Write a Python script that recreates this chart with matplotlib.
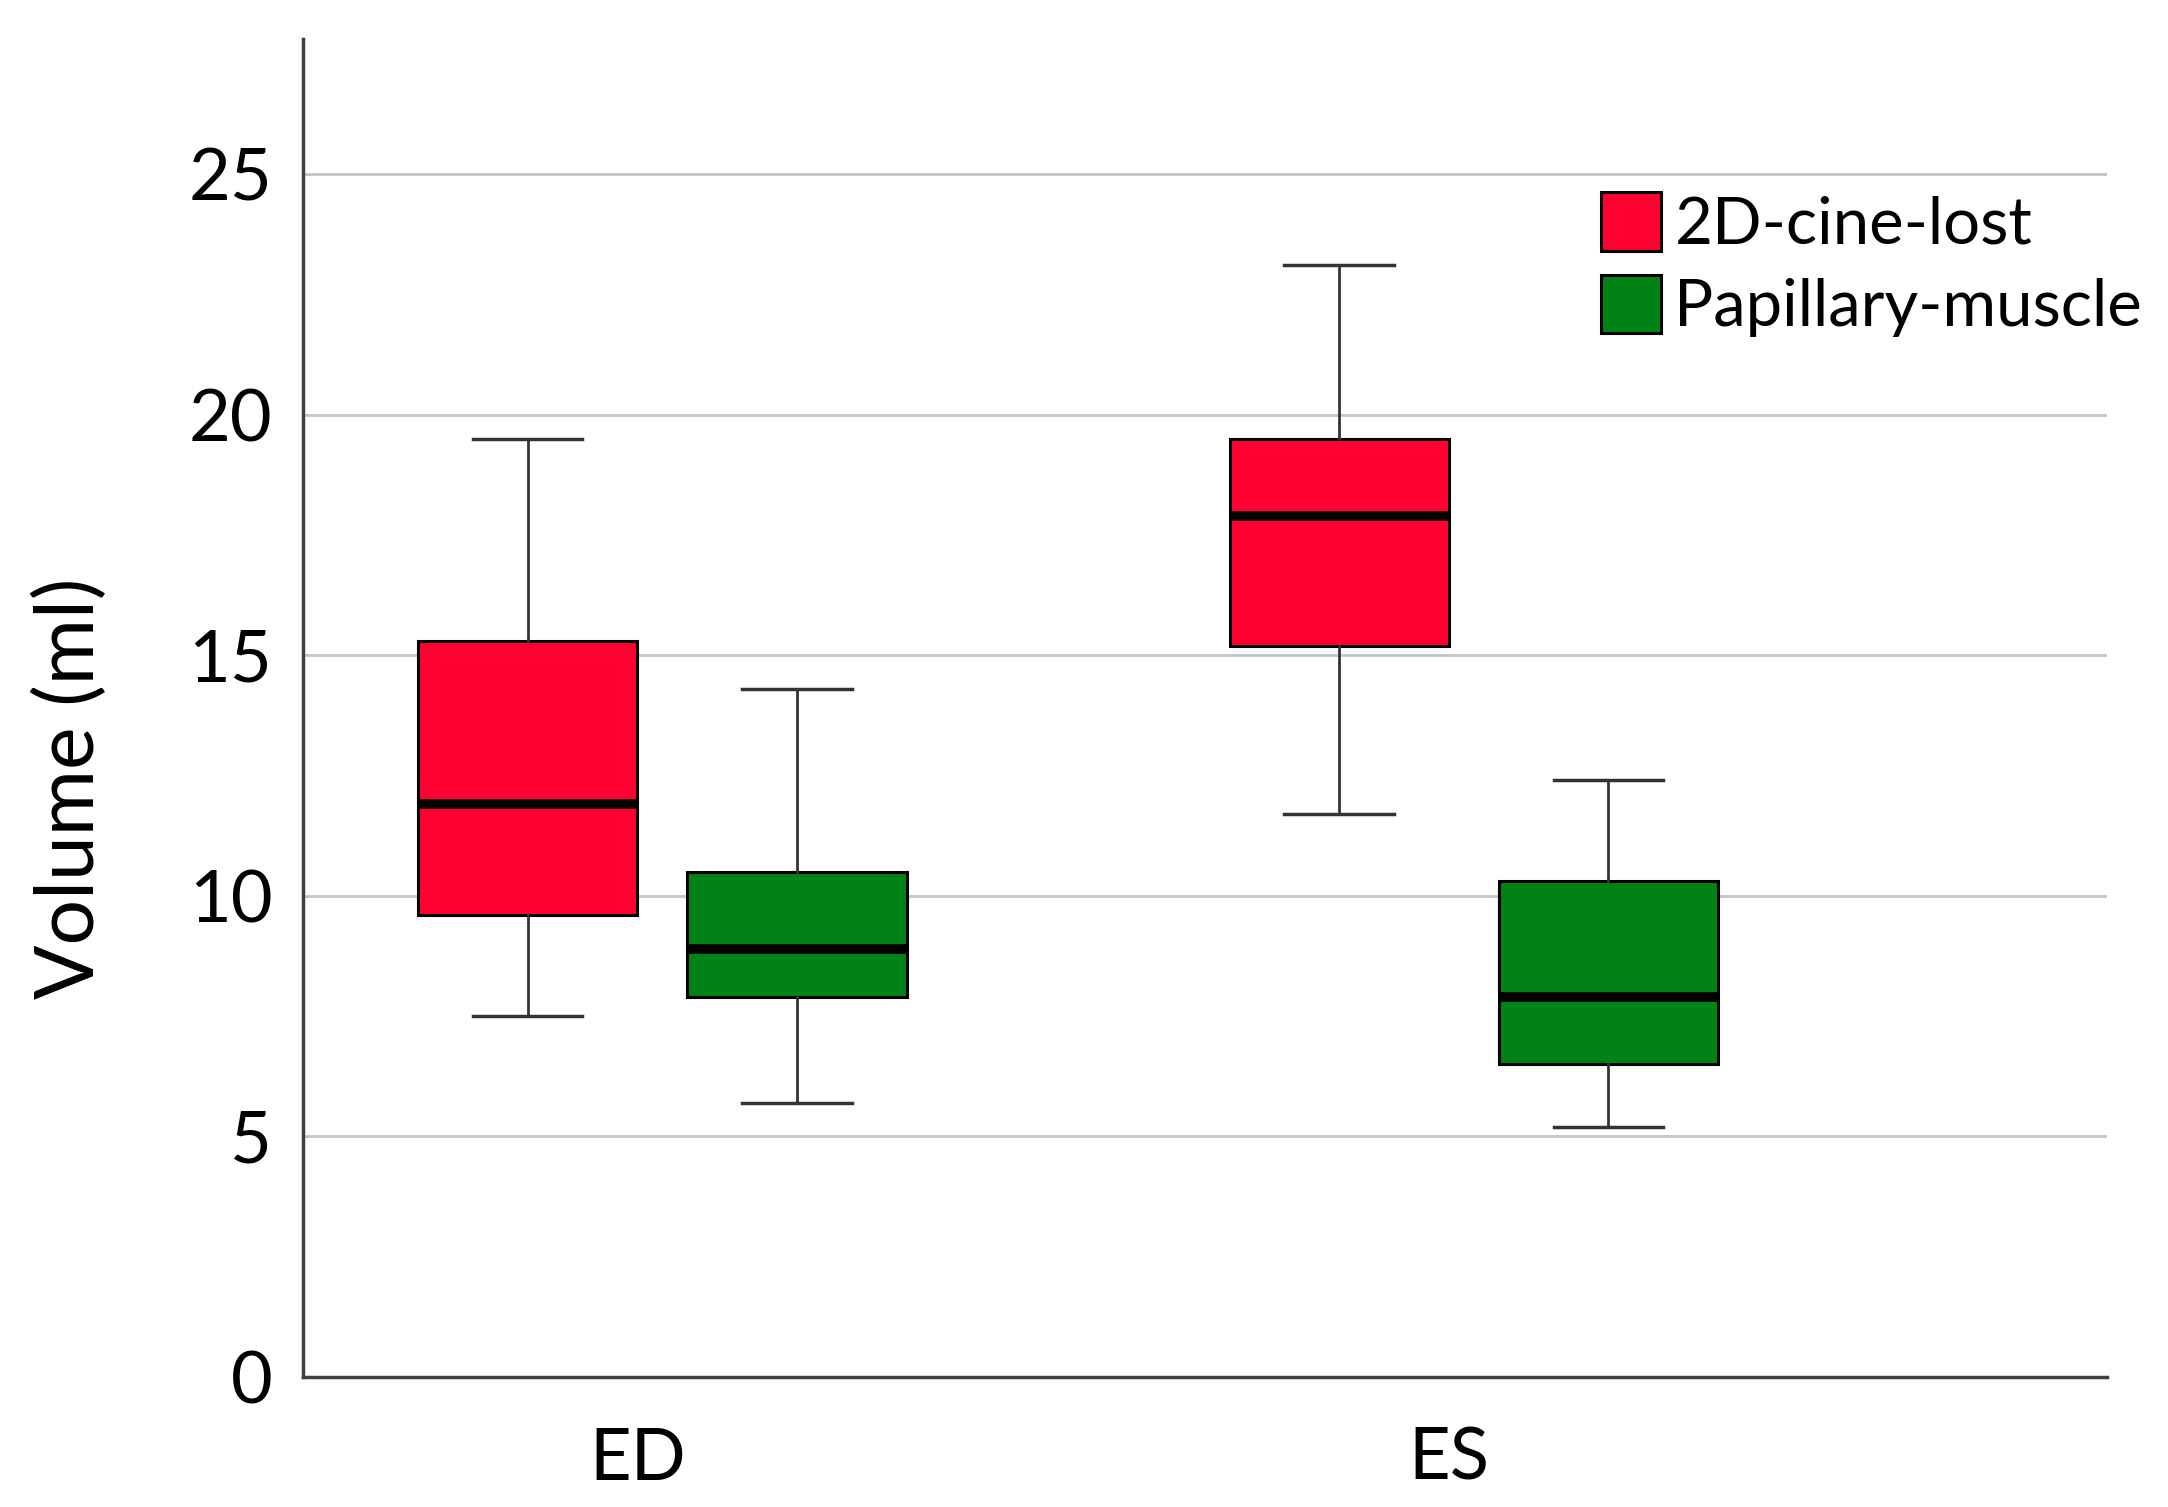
import matplotlib
matplotlib.use("Agg")
import matplotlib.pyplot as plt
import matplotlib.transforms as mtransforms
from matplotlib.patches import Patch

# --- data (ml) ---
phases = ["ED", "ES"]
groups = ["2D-cine-lost", "Papillary-muscle"]
colors = ["#FF0030", "#008214"]

# per group: values for ED, ES
whislo = {"2D-cine-lost": [7.5, 11.7], "Papillary-muscle": [5.7, 5.2]}
q1     = {"2D-cine-lost": [9.6, 15.2], "Papillary-muscle": [7.9, 6.5]}
med    = {"2D-cine-lost": [11.9, 17.9], "Papillary-muscle": [8.9, 7.9]}
q3     = {"2D-cine-lost": [15.3, 19.5], "Papillary-muscle": [10.5, 10.3]}
whishi = {"2D-cine-lost": [19.5, 23.1], "Papillary-muscle": [14.3, 12.4]}

yticks = [0, 5, 10, 15, 20, 25]

plt.rcParams["font.family"] = ["Lato", "DejaVu Sans"]

fig = plt.figure(figsize=(21.68, 15.07), dpi=100)
ax = fig.add_axes([0.1397, 0.0863, 0.832, 0.8877])

offsets = [-0.166, 0.166]
width = 0.27
for gi, g in enumerate(groups):
    stats = []
    for pi in range(len(phases)):
        stats.append({"whislo": whislo[g][pi], "q1": q1[g][pi], "med": med[g][pi],
                      "q3": q3[g][pi], "whishi": whishi[g][pi], "fliers": []})
    pos = [pi + offsets[gi] for pi in range(len(phases))]
    ax.bxp(stats, positions=pos, widths=width, patch_artist=True, showfliers=False,
           boxprops=dict(facecolor=colors[gi], edgecolor="black", linewidth=2.2),
           medianprops=dict(color="black", linewidth=7, solid_capstyle="butt"),
           whiskerprops=dict(color="#333333", linewidth=2),
           capprops=dict(color="#333333", linewidth=2.5),
           capwidths=width * 0.5, zorder=3)

ax.set_xlim(-0.443, 1.78)
ax.set_ylim(0, 27.8)
ax.set_xticks(range(len(phases)))
ax.set_xticklabels(phases)
ax.set_yticks(yticks)
ax.tick_params(axis="both", length=0, labelsize=52, colors="black")
ax.tick_params(axis="y", pad=22)
ax.tick_params(axis="x", pad=36)
# category labels sit a little left of the group centre
shift = mtransforms.ScaledTranslation(-0.25, 0, fig.dpi_scale_trans)
for lab in ax.get_xticklabels():
    lab.set_transform(lab.get_transform() + shift)
ax.set_ylabel("Volume (ml)", fontsize=58)
ax.yaxis.set_label_coords(-0.108, 0.44)

ax.yaxis.grid(True, color="#c4c4c4", linewidth=2)
ax.set_axisbelow(True)
for s in ["top", "right"]:
    ax.spines[s].set_visible(False)
for s in ["left", "bottom"]:
    ax.spines[s].set_color("#404040")
    ax.spines[s].set_linewidth(2.5)

handles = [Patch(facecolor=c, edgecolor="black", linewidth=2.2) for c in colors]
ax.legend(handles, groups, loc="upper left", bbox_to_anchor=(0.705, 0.905),
          frameon=False, fontsize=47, handlelength=0.93, handleheight=1.0,
          handletextpad=0.2, labelspacing=0.3, borderaxespad=0)

fig.savefig("out.png", dpi=100, facecolor="white")
